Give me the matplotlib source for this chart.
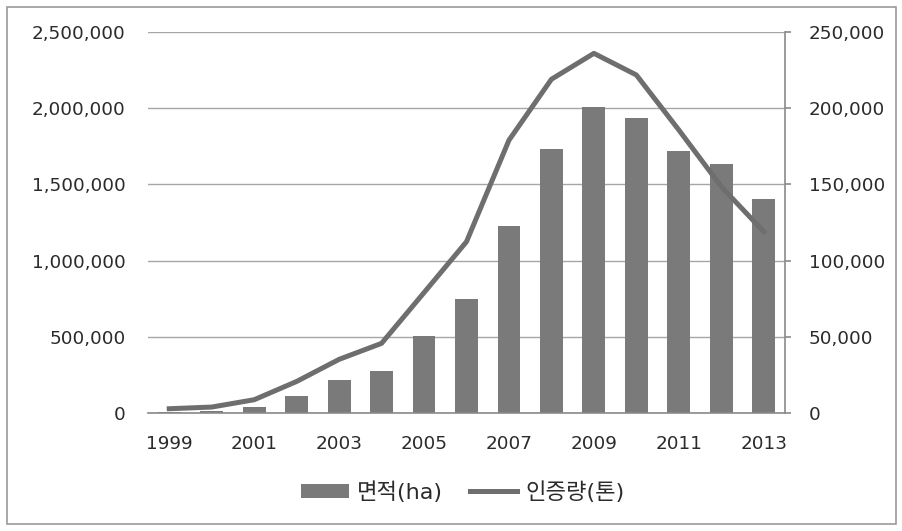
import matplotlib
matplotlib.use("Agg")
import matplotlib.pyplot as plt
from matplotlib.patches import Rectangle
from matplotlib.ticker import FuncFormatter

plt.rcParams['font.family'] = ['DejaVu Sans', 'Noto Sans CJK KR']

years = list(range(1999, 2014))
area_ha = [8000, 15000, 40000, 109000, 218000, 277000, 503000, 746000,
           1227000, 1732000, 2008000, 1934000, 1719000, 1636000, 1404000]
certified_ton = [2800, 3900, 8700, 20700, 35200, 45700, 79000, 112400,
                 179000, 219000, 236000, 221800, 185700, 148500, 119000]
area_label = '면적(ha)'
cert_label = '인증량(톤)'
left_ticks = [0, 500000, 1000000, 1500000, 2000000, 2500000]
right_ticks = [0, 50000, 100000, 150000, 200000, 250000]

bar_color = '#7a7a7a'
line_color = '#6e6e6e'
text_color = '#2b2b2b'
grid_color = '#a6a6a6'
fs = 13.2
legend_fs = 16

fig = plt.figure(figsize=(9.03, 5.31), dpi=100)
fig.patches.append(Rectangle((7 / 903, 7 / 531), 1 - 14 / 903, 1 - 14 / 531,
                             transform=fig.transFigure, fill=False,
                             edgecolor='#9a9a9a', linewidth=1.2))

ax = fig.add_axes([148 / 903, 1 - 413 / 531, (785 - 148) / 903, (413 - 32) / 531])
x = list(range(len(years)))
ax.bar(x, area_ha, width=0.54, color=bar_color, zorder=2, label=area_label)
ax.set_xlim(-0.5, len(years) - 0.5)
ax.set_ylim(0, 2500000)
ax.set_yticks(left_ticks)
ax.yaxis.set_major_formatter(FuncFormatter(lambda v, p: f'{int(v):,}'))
ax.grid(axis='y', color=grid_color, linewidth=1.0, zorder=0)
ax.set_axisbelow(True)
for s in ['left', 'top', 'right']:
    ax.spines[s].set_visible(False)
ax.spines['bottom'].set_color('#8a8a8a')
ax.spines['bottom'].set_linewidth(1.2)
ax.set_xticks(x[::2])
ax.set_xticklabels([str(y) for y in years[::2]])
ax.tick_params(axis='x', length=0, pad=16, labelsize=fs, colors=text_color)
ax.tick_params(axis='y', length=0, pad=16, labelsize=fs, colors=text_color)

ax2 = ax.twinx()
ax2.plot(x, certified_ton, color=line_color, linewidth=3.6, zorder=3,
         solid_joinstyle='round', label=cert_label)
ax2.set_ylim(0, 250000)
ax2.set_yticks(right_ticks)
ax2.yaxis.set_major_formatter(FuncFormatter(lambda v, p: f'{int(v):,}'))
for s in ['left', 'top', 'bottom']:
    ax2.spines[s].set_visible(False)
ax2.spines['right'].set_color('#8a8a8a')
ax2.spines['right'].set_linewidth(1.2)
ax2.tick_params(axis='y', length=4, width=1.2, pad=13, labelsize=fs,
                color='#8a8a8a', labelcolor=text_color)

h1, l1 = ax.get_legend_handles_labels()
h2, l2 = ax2.get_legend_handles_labels()
fig.legend(h1 + h2, l1 + l2, loc='center', bbox_to_anchor=(463 / 903, 1 - 492 / 531),
           ncol=2, frameon=False, fontsize=legend_fs, labelcolor=text_color,
           handlelength=2.15, handleheight=0.62, columnspacing=1.2,
           handletextpad=0.36)

fig.savefig('out.png', dpi=100, facecolor='white')
